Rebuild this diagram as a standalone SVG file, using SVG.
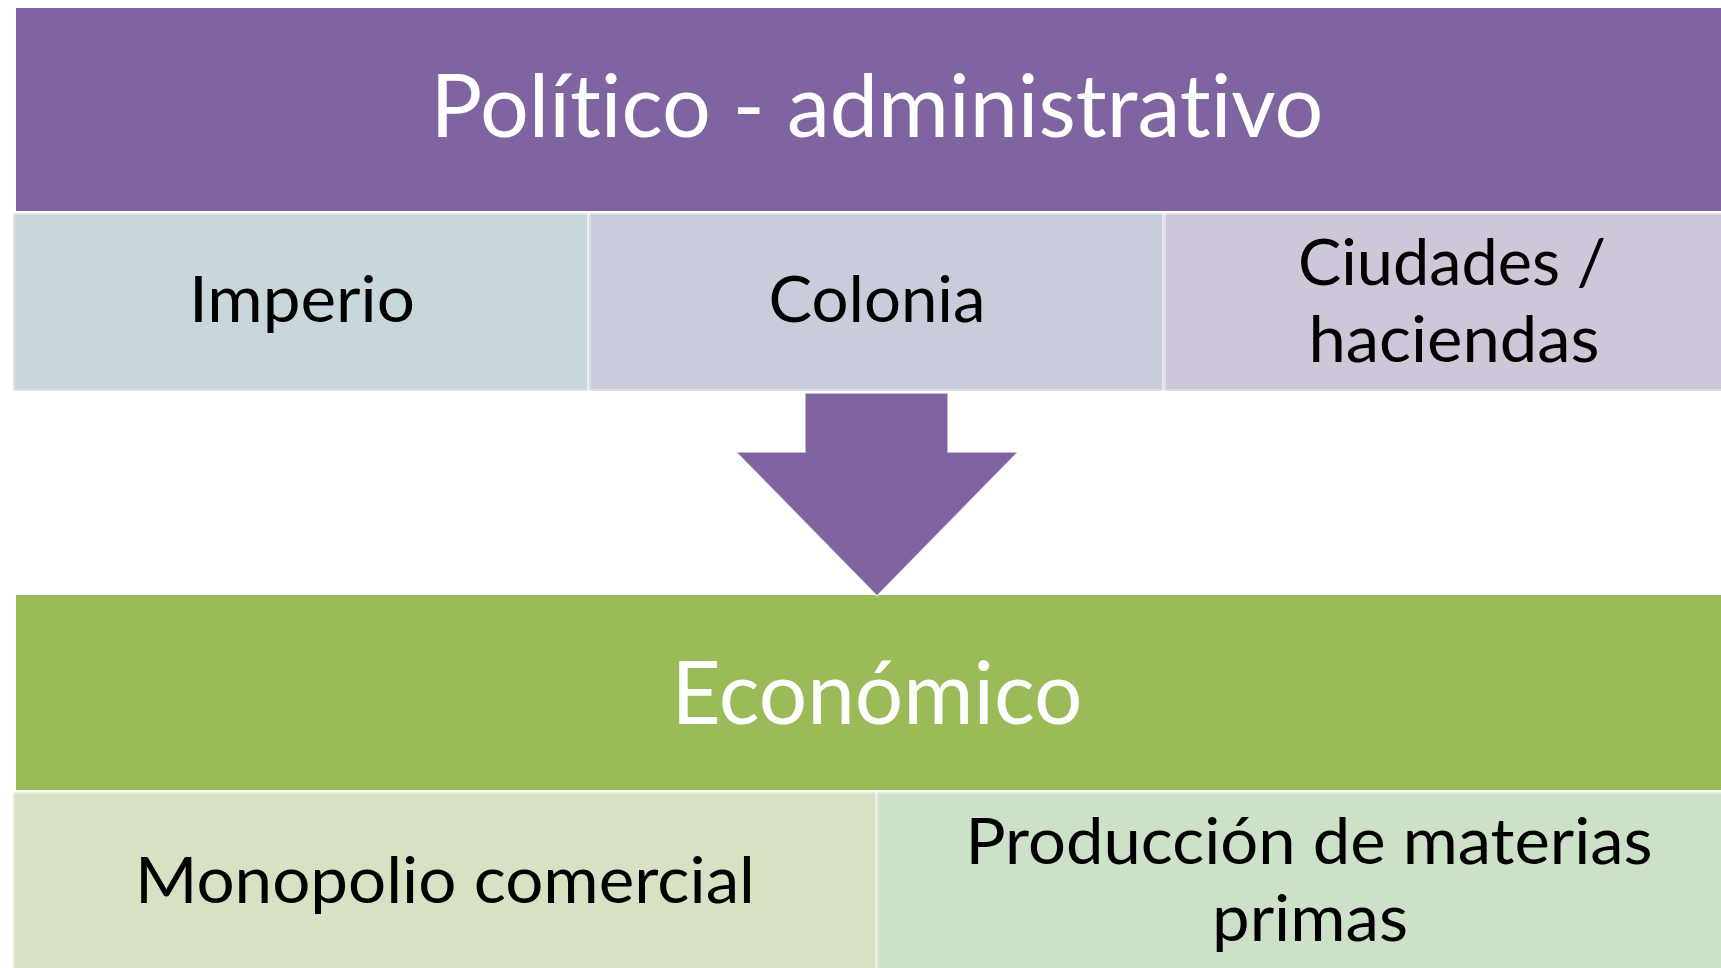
<svg xmlns="http://www.w3.org/2000/svg" width="1721" height="968" viewBox="0 0 1721 968">
<style>
text{font-variant-ligatures:none;font-feature-settings:"liga" 0,"clig" 0}
.hdr{font-family:Lato,"Open Sans",sans-serif;fill:#fff;text-anchor:middle}
.sub{font-family:Lato,"Open Sans",sans-serif;fill:#000;text-anchor:middle;font-size:64px}
.box{stroke:#fff;stroke-opacity:0.35;stroke-width:4}
</style>
<rect width="1721" height="968" fill="#fff"/>
<g id="politico">
<rect x="16" y="8" width="1724" height="203" fill="#8064A2"/>
<text class="hdr" x="877" y="137" font-size="88" textLength="893" lengthAdjust="spacingAndGlyphs">Político - administrativo</text>
</g>
<g id="imperio">
<rect class="box" x="13" y="213" width="576" height="178" rx="3" fill="#C9D6DC"/>
<text class="sub" x="302" y="322" textLength="226" lengthAdjust="spacingAndGlyphs">Imperio</text>
</g>
<g id="colonia">
<rect class="box" x="589" y="213" width="575" height="178" rx="3" fill="#C9CCDB"/>
<text class="sub" x="877" y="322" textLength="217" lengthAdjust="spacingAndGlyphs">Colonia</text>
</g>
<g id="ciudades">
<rect class="box" x="1164" y="213" width="580" height="178" rx="3" fill="#CFC6DA"/>
<text class="sub" x="1452" y="285" textLength="308" lengthAdjust="spacingAndGlyphs">Ciudades /</text>
<text class="sub" x="1454" y="362" textLength="291" lengthAdjust="spacingAndGlyphs">haciendas</text>
</g>
<g id="economico">
<rect x="16" y="595" width="1724" height="195" fill="#9BBB59"/>
<text class="hdr" x="877" y="724" font-size="88" textLength="411" lengthAdjust="spacingAndGlyphs">Económico</text>
</g>
<g id="connectors">
<polygon points="805,393 948,393 948,452 1018,452 877,596 736,452 805,452" fill="#8064A2" stroke="#fff" stroke-opacity="0.7" stroke-width="1.5"/>
</g>
<g id="monopolio">
<rect class="box" x="13" y="792" width="864" height="190" rx="3" fill="#D7E2C5"/>
<text class="sub" x="445" y="903" textLength="620" lengthAdjust="spacingAndGlyphs">Monopolio comercial</text>
</g>
<g id="produccion">
<rect class="box" x="877" y="792" width="864" height="190" rx="3" fill="#CDE0C8"/>
<text class="sub" x="1309" y="864" textLength="687" lengthAdjust="spacingAndGlyphs">Producción de materias</text>
<text class="sub" x="1310" y="941" textLength="196" lengthAdjust="spacingAndGlyphs">primas</text>
</g>
</svg>
